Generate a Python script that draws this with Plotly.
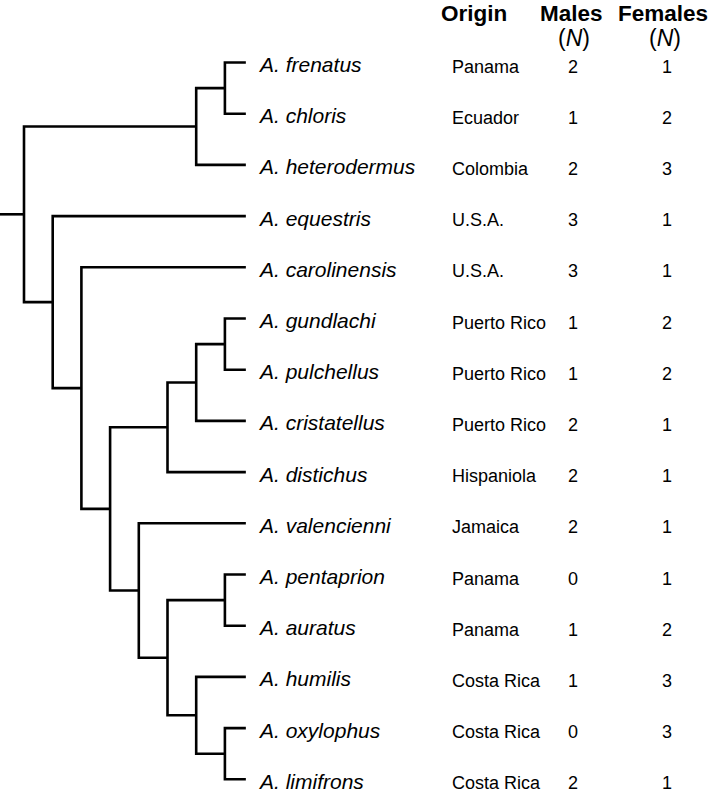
import plotly.graph_objects as go

# ---------------- data ----------------
species = ["A. frenatus", "A. chloris", "A. heterodermus", "A. equestris",
           "A. carolinensis", "A. gundlachi", "A. pulchellus", "A. cristatellus",
           "A. distichus", "A. valencienni", "A. pentaprion", "A. auratus",
           "A. humilis", "A. oxylophus", "A. limifrons"]
origin = ["Panama", "Ecuador", "Colombia", "U.S.A.", "U.S.A.", "Puerto Rico",
          "Puerto Rico", "Puerto Rico", "Hispaniola", "Jamaica", "Panama",
          "Panama", "Costa Rica", "Costa Rica", "Costa Rica"]
males = [2, 1, 2, 3, 3, 1, 1, 2, 2, 2, 0, 1, 1, 0, 2]
females = [1, 2, 3, 1, 1, 2, 2, 1, 1, 1, 1, 2, 3, 3, 1]

# tree topology: (node depth, [children]); tips are species names
tip_depth = 7.73
root_stem = 0.84
tree = (0, [
    (6, [(7, ["A. frenatus", "A. chloris"]), "A. heterodermus"]),
    (1, ["A. equestris",
         (2, ["A. carolinensis",
              (3, [
                  (5, [(6, [(7, ["A. gundlachi", "A. pulchellus"]), "A. cristatellus"]),
                       "A. distichus"]),
                  (4, ["A. valencienni",
                       (5, [(7, ["A. pentaprion", "A. auratus"]),
                            (6, ["A. humilis", (7, ["A. oxylophus", "A. limifrons"])])])])
              ])])])
])

headers = ["Origin", "Males", "Females"]
sub_headers = ["", "(<i>N</i>)", "(<i>N</i>)"]

# ---------------- layout helpers ----------------
W, H = 709, 797
px0, px_per = 24.0, 28.7      # x pixel of depth 0, pixels per depth unit
py0, py_per = 62.5, 51.2      # y pixel of first tip, pixels per tip

tip_index = {s: i for i, s in enumerate(species)}

xs, ys = [], []


def node_xy(node):
    """returns (depth, y) of node and appends drawing path"""
    if isinstance(node, str):
        return tip_depth, tip_index[node]
    depth, children = node
    pts = [node_xy(c) for c in children]
    y_first, y_last = pts[0][1], pts[-1][1]
    xs.extend([pts[0][0], depth, depth, pts[-1][0], None])
    ys.extend([y_first, y_first, y_last, y_last, None])
    for (cx, cy) in pts[1:-1]:
        xs.extend([depth, cx, None])
        ys.extend([cy, cy, None])
    return depth, (y_first + y_last) / 2.0


root_d, root_y = node_xy(tree)
xs.extend([root_d - root_stem, root_d, None])
ys.extend([root_y, root_y, None])

fig = go.Figure()
fig.add_trace(go.Scatter(x=xs, y=ys, mode="lines",
                         line=dict(color="#000000", width=2.6),
                         hoverinfo="skip", showlegend=False))

ann = []
FONT = "Liberation Sans, Arial, sans-serif"
for i, s in enumerate(species):
    ann.append(dict(x=tip_depth, y=i, xref="x", yref="y", text="<i>%s</i>" % s,
                    showarrow=False, xanchor="left", yanchor="middle",
                    xshift=10, yshift=-2,
                    font=dict(family=FONT, size=21, color="#000")))
    ann.append(dict(x=450 / W, y=i, xref="paper", yref="y", text=origin[i],
                    showarrow=False, xanchor="left", yanchor="middle", yshift=-4,
                    font=dict(family=FONT, size=18, color="#000")))
    ann.append(dict(x=573 / W, y=i, xref="paper", yref="y", text=str(males[i]),
                    showarrow=False, xanchor="center", yanchor="middle", yshift=-4,
                    font=dict(family=FONT, size=18, color="#000")))
    ann.append(dict(x=667 / W, y=i, xref="paper", yref="y", text=str(females[i]),
                    showarrow=False, xanchor="center", yanchor="middle", yshift=-4,
                    font=dict(family=FONT, size=18, color="#000")))

head_x = [473.5 / W, 571 / W, 662.5 / W]
sub_x = [473.5 / W, 574 / W, 665 / W]
for hx, sx, h, sh in zip(head_x, sub_x, headers, sub_headers):
    ann.append(dict(x=hx, y=1, xref="paper", yref="paper",
                    text="<b>%s</b>" % h, showarrow=False,
                    xanchor="center", yanchor="top", yshift=1,
                    font=dict(family=FONT, size=22.5, color="#000")))
    if sh:
        ann.append(dict(x=sx, y=1 - 38 / H, xref="paper", yref="paper",
                        text=sh, showarrow=False,
                        xanchor="center", yanchor="middle",
                        font=dict(family=FONT, size=23, color="#000")))

fig.update_layout(
    width=W, height=H,
    margin=dict(l=0, r=0, t=0, b=0),
    paper_bgcolor="white", plot_bgcolor="white",
    annotations=ann,
    xaxis=dict(range=[-px0 / px_per, (W - px0) / px_per], visible=False, fixedrange=True),
    yaxis=dict(range=[(H - py0) / py_per, -py0 / py_per], visible=False, fixedrange=True),
)

fig.write_html("out.html", config={"displayModeBar": False},
               post_script="document.body.style.margin='0';document.body.style.overflow='hidden';")
